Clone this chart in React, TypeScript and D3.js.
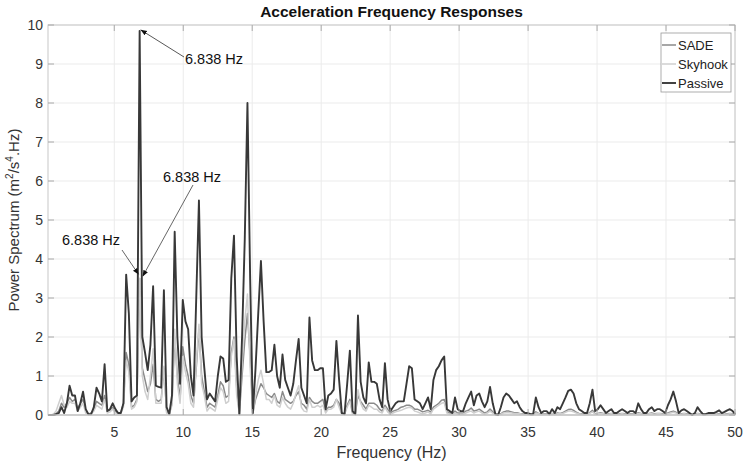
import React from 'react';
import * as d3 from 'd3';

// spectrum samples, bin k = 1..256 (df ~ 0.1954 Hz)
const FREQ_STEP = 0.1954;

const passive = [
  0, 0, 0, 0.02, 0.05, 0.2, 0.05, 0.3, 0.75, 0.5,
  0.5, 0.1, 0.3, 0.6, 0.15, 0.02, 0.02, 0.2, 0.7, 0.55,
  0.35, 1.3, 0.1, 0.15, 0.3, 0.15, 0.05, 0.05, 0.3, 3.6,
  2.6, 0.35, 0.45, 0.5, 9.85, 2.0, 1.6, 1.15, 1.8, 3.3,
  0.75, 0.72, 0.7, 3.2, 0.2, 0.02, 0.5, 4.7, 2.0, 0.8,
  2.95, 2.4, 2.2, 1.0, 0.5, 3.0, 5.5, 2.0, 1.2, 0.4,
  0.55, 0.45, 0.35, 1.0, 1.5, 1.45, 0.85, 0.9, 3.5, 4.6,
  1.5, 0.02, 2.0, 4.5, 8.0, 3.5, 0.05, 1.2, 2.6, 3.95,
  2.4, 1.1, 1.1, 1.15, 1.8, 1.0, 0.7, 1.55, 0.9, 0.7,
  0.5, 0.8, 1.4, 1.95, 0.7, 0.5, 0.3, 2.5, 1.4, 1.15,
  1.15, 1.2, 1.2, 0.15, 0.5, 0.55, 0.65, 1.9, 0.9, 0.05,
  0.02, 0.8, 1.65, 0.1, 0.02, 2.55, 0.85, 0.45, 0.3, 1.35,
  0.85, 0.85, 0.8, 0.4, 0.2, 1.33, 0.4, 0.1, 0.2, 0.3,
  0.35, 0.35, 0.35, 0.8, 1.25, 1.2, 0.4, 0.35, 0.3, 0.15,
  0.3, 0.45, 0.15, 0.9, 1.15, 1.25, 1.4, 1.5, 0.15, 0.1,
  0.05, 0.45, 0.15, 0.1, 0.1, 0.3, 0.45, 0.6, 0.25, 0.5,
  0.55, 0.35, 0.2, 0.35, 0.72, 0.3, 0.02, 0.0, 0.2, 0.45,
  0.55, 0.5, 0.4, 0.3, 0.35, 0.2, 0.1, 0.05, 0.05, 0.02,
  0.02, 0.45, 0.2, 0.05, 0.1, 0.1, 0.02, 0.15, 0.05, 0.2,
  0.15, 0.3, 0.45, 0.62, 0.65, 0.55, 0.3, 0.15, 0.1, 0.05,
  0.05, 0.3, 0.65, 0.1, 0.15, 0.25, 0.15, 0.05, 0.1, 0.15,
  0.05, 0.05, 0.1, 0.15, 0.1, 0.05, 0.1, 0.1, 0.05, 0.3,
  0.15, 0.05, 0.05, 0.15, 0.2, 0.1, 0.15, 0.15, 0.1, 0.05,
  0.25, 0.4, 0.6, 0.35, 0.05, 0.12, 0.15, 0.1, 0.05, 0.0,
  0.05, 0.2, 0.1, 0.02, 0.02, 0.05, 0.05, 0.05, 0.08, 0.12,
  0.05, 0.08, 0.12, 0.15, 0.1, 0.02,
];

const sade = [
  0, 0, 0.01, 0.03, 0.1, 0.3, 0.2, 0.3, 0.45, 0.35,
  0.4, 0.15, 0.3, 0.4, 0.1, 0.02, 0.05, 0.15, 0.35, 0.3,
  0.25, 0.5, 0.1, 0.12, 0.2, 0.1, 0.05, 0.05, 0.3, 1.6,
  1.3, 0.2, 0.25, 0.4, 3.5, 1.2, 0.9, 0.6, 0.8, 1.3,
  0.4, 0.35, 0.4, 1.2, 0.1, 0.02, 0.3, 2.0, 1.0, 0.4,
  1.75, 1.3, 1.0, 0.5, 0.3, 1.2, 2.2, 1.0, 0.6, 0.2,
  0.3, 0.25, 0.2, 0.5, 0.85, 0.75, 0.45, 0.5, 1.6, 2.0,
  0.7, 0.02, 1.0, 1.9, 2.6, 1.5, 0.05, 0.4, 0.6, 0.8,
  0.7, 0.55, 0.5, 0.45, 0.55, 0.35, 0.3, 0.6, 0.4, 0.35,
  0.3, 0.35, 0.5, 0.6, 0.3, 0.25, 0.15, 0.45, 0.35, 0.3,
  0.3, 0.35, 0.4, 0.1, 0.2, 0.2, 0.25, 0.4, 0.3, 0.05,
  0.02, 0.25, 0.4, 0.05, 0.02, 0.5, 0.35, 0.25, 0.15, 0.3,
  0.3, 0.3, 0.25, 0.15, 0.1, 0.25, 0.15, 0.05, 0.1, 0.12,
  0.15, 0.2, 0.22, 0.25, 0.25, 0.22, 0.15, 0.15, 0.12, 0.08,
  0.1, 0.12, 0.08, 0.2, 0.25, 0.3, 0.38, 0.4, 0.08, 0.05,
  0.03, 0.1, 0.05, 0.05, 0.05, 0.1, 0.12, 0.18, 0.1, 0.12,
  0.15, 0.1, 0.05, 0.08, 0.15, 0.08, 0.02, 0.01, 0.03, 0.08,
  0.1, 0.1, 0.08, 0.06, 0.06, 0.04, 0.03, 0.02, 0.02, 0.01,
  0.01, 0.08, 0.04, 0.02, 0.03, 0.03, 0.01, 0.04, 0.02, 0.05,
  0.04, 0.06, 0.1, 0.14, 0.15, 0.12, 0.07, 0.04, 0.03, 0.02,
  0.02, 0.06, 0.12, 0.03, 0.04, 0.06, 0.04, 0.02, 0.03, 0.04,
  0.02, 0.02, 0.03, 0.04, 0.03, 0.02, 0.03, 0.03, 0.02, 0.06,
  0.04, 0.02, 0.02, 0.04, 0.05, 0.03, 0.04, 0.04, 0.03, 0.02,
  0.05, 0.08, 0.1, 0.07, 0.02, 0.03, 0.04, 0.03, 0.02, 0.01,
  0.02, 0.04, 0.03, 0.01, 0.01, 0.02, 0.02, 0.02, 0.02, 0.03,
  0.02, 0.02, 0.03, 0.04, 0.03, 0.01,
];

const skyhook = [
  0, 0, 0.02, 0.1, 0.3, 0.5, 0.25, 0.2, 0.35, 0.3,
  0.3, 0.1, 0.2, 0.3, 0.05, 0.02, 0.03, 0.1, 0.25, 0.2,
  0.15, 0.4, 0.05, 0.08, 0.15, 0.05, 0.03, 0.03, 0.2, 1.4,
  1.1, 0.15, 0.2, 0.35, 3.5, 1.0, 0.6, 0.4, 1.0, 1.7,
  0.3, 0.3, 0.3, 1.25, 0.05, 0.02, 0.25, 2.2, 0.8, 0.3,
  1.5, 1.1, 0.8, 0.3, 0.2, 1.3, 2.33, 0.8, 0.5, 0.1,
  0.2, 0.15, 0.1, 0.4, 0.7, 0.6, 0.3, 0.35, 1.5, 1.95,
  0.5, 0.02, 1.3, 2.4, 3.1, 1.2, 0.02, 0.5, 0.9, 1.15,
  0.8, 0.4, 0.4, 0.3, 0.5, 0.25, 0.2, 0.45, 0.3, 0.2,
  0.15, 0.3, 0.55, 0.75, 0.2, 0.1, 0.08, 0.4, 0.2, 0.2,
  0.25, 0.2, 0.25, 0.05, 0.15, 0.15, 0.2, 0.4, 0.2, 0.02,
  0.02, 0.2, 0.35, 0.02, 0.02, 0.65, 0.3, 0.15, 0.1, 0.25,
  0.2, 0.15, 0.15, 0.08, 0.05, 0.2, 0.08, 0.02, 0.05, 0.08,
  0.1, 0.12, 0.15, 0.18, 0.2, 0.18, 0.1, 0.08, 0.05, 0.03,
  0.05, 0.08, 0.03, 0.15, 0.2, 0.25, 0.3, 0.32, 0.05, 0.02,
  0.02, 0.05, 0.02, 0.02, 0.02, 0.05, 0.08, 0.1, 0.05, 0.08,
  0.1, 0.05, 0.02, 0.05, 0.1, 0.05, 0.01, 0.01, 0.02, 0.05,
  0.06, 0.06, 0.05, 0.04, 0.04, 0.03, 0.02, 0.01, 0.01, 0.01,
  0.01, 0.05, 0.03, 0.01, 0.02, 0.02, 0.01, 0.03, 0.01, 0.03,
  0.03, 0.04, 0.07, 0.1, 0.1, 0.08, 0.05, 0.03, 0.02, 0.01,
  0.01, 0.04, 0.08, 0.02, 0.03, 0.04, 0.03, 0.01, 0.02, 0.03,
  0.01, 0.01, 0.02, 0.03, 0.02, 0.01, 0.02, 0.02, 0.01, 0.04,
  0.03, 0.01, 0.01, 0.03, 0.03, 0.02, 0.03, 0.03, 0.02, 0.01,
  0.03, 0.05, 0.07, 0.05, 0.01, 0.02, 0.03, 0.02, 0.01, 0.01,
  0.01, 0.03, 0.02, 0.01, 0.01, 0.01, 0.01, 0.01, 0.01, 0.02,
  0.01, 0.01, 0.02, 0.03, 0.02, 0.01,
];

const xTicks = [5, 10, 15, 20, 25, 30, 35, 40, 45, 50];
const yTicks = [0, 1, 2, 3, 4, 5, 6, 7, 8, 9, 10];

const seriesNames = ['SADE', 'Skyhook', 'Passive'];
const seriesColors = ['#8a8a8a', '#cfcfcf', '#383838'];
const seriesWidths = [1.5, 1.5, 1.9];

const peakFreq = 6.838;
const peakLabel = '6.838 Hz';

const width = 746;
const height = 469;
const margin = { top: 25, right: 11, bottom: 54, left: 48 };
const FONT = '"Liberation Sans", Arial, Helvetica, sans-serif';

export default function App() {
  const innerW = width - margin.left - margin.right;
  const innerH = height - margin.top - margin.bottom;

  const freqs = passive.map((_, i) => (i + 1) * FREQ_STEP);

  const x = d3.scaleLinear().domain([FREQ_STEP, 50]).range([0, innerW]);
  const y = d3.scaleLinear().domain([0, 10]).range([innerH, 0]);

  const line = d3.line<number>()
    .x((_, i) => x(freqs[i]))
    .y((d) => y(d));

  const allSeries = [sade, skyhook, passive];

  // annotation targets in data space
  const topTip = { x: x(peakFreq), y: y(passive[34]) };
  const lowTip = { x: x(peakFreq), y: y(sade[34]) };

  return (
    <svg width={width} height={height} style={{ position: 'absolute', left: 0, top: 0, background: '#fff' }}
      fontFamily={FONT}>
      <defs>
        <marker id="ah" viewBox="0 0 10 10" refX="10" refY="5" markerWidth="7" markerHeight="7" orient="auto">
          <path d="M0,1 L10,5 L0,9 z" fill="#111" />
        </marker>
      </defs>

      <text x={margin.left + innerW / 2} y={17} textAnchor="middle" fontSize={15.5} fontWeight="bold" fill="#111">
        Acceleration Frequency Responses
      </text>

      <g transform={`translate(${margin.left},${margin.top})`}>
        {/* grid */}
        {xTicks.map((t) => (
          <line key={'gx' + t} x1={x(t)} x2={x(t)} y1={0} y2={innerH} stroke="#ebebeb" />
        ))}
        {yTicks.map((t) => (
          <line key={'gy' + t} x1={0} x2={innerW} y1={y(t)} y2={y(t)} stroke="#ebebeb" />
        ))}

        {/* series */}
        {allSeries.map((s, i) => (
          <path key={seriesNames[i]} d={line(s) || ''} fill="none" stroke={seriesColors[i]}
            strokeWidth={seriesWidths[i]} strokeLinejoin="round" />
        ))}

        {/* frame and ticks */}
        <rect x={0} y={0} width={innerW} height={innerH} fill="none" stroke="#c8c8c8" />
        <line x1={0} x2={innerW} y1={innerH} y2={innerH} stroke="#bdbdbd" />
        {xTicks.map((t) => (
          <g key={'tx' + t}>
            <line x1={x(t)} x2={x(t)} y1={innerH} y2={innerH - 6} stroke="#aaa" />
            <line x1={x(t)} x2={x(t)} y1={0} y2={6} stroke="#aaa" />
            <text x={x(t)} y={innerH + 22} textAnchor="middle" fontSize={14} fill="#333">{t}</text>
          </g>
        ))}
        {yTicks.map((t) => (
          <g key={'ty' + t}>
            <line x1={0} x2={6} y1={y(t)} y2={y(t)} stroke="#aaa" />
            <line x1={innerW} x2={innerW - 6} y1={y(t)} y2={y(t)} stroke="#aaa" />
            <text x={-5} y={y(t) + 5} textAnchor="end" fontSize={14} fill="#333">{t}</text>
          </g>
        ))}

        {/* annotations */}
        <line x1={136} x2={topTip.x + 1} y1={32} y2={topTip.y - 1} stroke="#444" strokeWidth={0.9} markerEnd="url(#ah)" />
        <text x={137} y={39} fontSize={14.5} fill="#111">{peakLabel}</text>

        <line x1={145} x2={lowTip.x + 3} y1={160} y2={lowTip.y - 2} stroke="#555" strokeWidth={0.9} markerEnd="url(#ah)" />
        <text x={115} y={157} fontSize={14.5} fill="#111">{peakLabel}</text>

        <line x1={74} x2={lowTip.x - 1} y1={225} y2={lowTip.y - 4} stroke="#555" strokeWidth={0.9} markerEnd="url(#ah)" />
        <text x={14} y={220} fontSize={14.5} fill="#111">{peakLabel}</text>

        {/* legend */}
        <g transform={`translate(${innerW - 74},8)`}>
          <rect x={0} y={0} width={70} height={59} fill="#fff" stroke="#9a9a9a" strokeWidth={0.8} />
          {seriesNames.map((n, i) => (
            <g key={n} transform={`translate(0,${12 + i * 19})`}>
              <line x1={1} x2={15} y1={0} y2={0} stroke={seriesColors[i]} strokeWidth={seriesWidths[i]} />
              <text x={17} y={5} fontSize={13} fill="#222">{n}</text>
            </g>
          ))}
        </g>
      </g>

      <text x={margin.left + innerW / 2} y={458} textAnchor="middle" fontSize={16} fill="#333">
        Frequency (Hz)
      </text>
      <text transform="rotate(-90)" x={-(margin.top + innerH / 2)} y={19} textAnchor="middle" fontSize={15} fill="#333">
        Power Spectrum (m<tspan dy={-6} fontSize={10}>2</tspan><tspan dy={6}>/s</tspan><tspan dy={-6} fontSize={10}>4</tspan><tspan dy={6}>.Hz)</tspan>
      </text>
    </svg>
  );
}
